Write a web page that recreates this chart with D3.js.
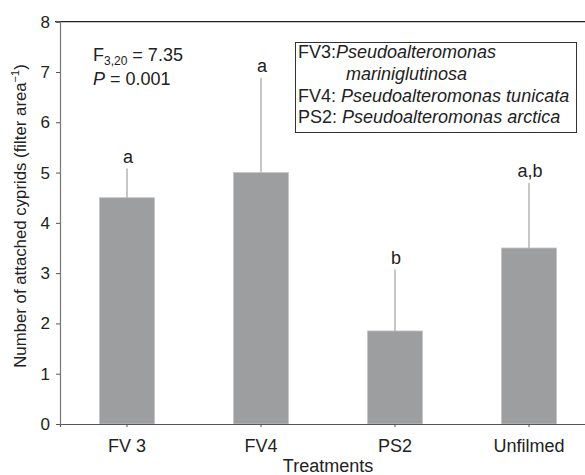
<!DOCTYPE html>
<html>
<head>
<meta charset="utf-8">
<script src="https://cdn.jsdelivr.net/npm/d3@7"></script>
<style>
  body { margin: 0; background: #fff; }
  svg { display: block; font-family: "Liberation Sans", Arial, sans-serif; }
</style>
</head>
<body>
<div id="chartMain"></div>
<script>
const treatments = ['FV 3', 'FV4', 'PS2', 'Unfilmed'];
const means = [4.5, 5.0, 1.85, 3.5];
const errors = [0.58, 1.88, 1.22, 1.29];
const letters = ['a', 'a', 'b', 'a,b'];
const yTicks = [0, 1, 2, 3, 4, 5, 6, 7, 8];

const W = 585, H = 475;
const margin = { top: 21.7, right: -11, bottom: 51, left: 60 };

const svg = d3.select('#chartMain')
    .append('svg')
    .attr('width', W)
    .attr('height', H);

// scales
const x = d3.scaleBand()
    .domain(treatments)
    .range([margin.left, W - margin.right])
    .paddingInner(0.59)
    .paddingOuter(0.295);

const y = d3.scaleLinear()
    .domain([0, 8])
    .range([H - margin.bottom, margin.top]);

// top frame line
svg.append('line')
    .attr('x1', margin.left - 5).attr('x2', W)
    .attr('y1', y(8)).attr('y2', y(8))
    .attr('stroke', '#222').attr('stroke-width', 1.2);

// bars
svg.append('g')
    .selectAll('rect')
    .data(treatments)
    .join('rect')
    .attr('x', d => x(d))
    .attr('y', (d, i) => y(means[i]))
    .attr('width', x.bandwidth())
    .attr('height', (d, i) => y(0) - y(means[i]))
    .attr('fill', '#9d9ea0')
    .attr('stroke', '#c4c4c6')
    .attr('stroke-width', 0.8);

// error bars (upper only)
svg.append('g')
    .selectAll('line')
    .data(treatments)
    .join('line')
    .attr('x1', d => x(d) + x.bandwidth() / 2)
    .attr('x2', d => x(d) + x.bandwidth() / 2)
    .attr('y1', (d, i) => y(means[i]))
    .attr('y2', (d, i) => y(means[i] + errors[i]))
    .attr('stroke', '#b4b4b6')
    .attr('stroke-width', 1.5);

// significance letters
svg.append('g')
    .selectAll('text')
    .data(treatments)
    .join('text')
    .attr('x', d => x(d) + x.bandwidth() / 2 + 1)
    .attr('y', (d, i) => y(means[i] + errors[i]) - 6)
    .attr('text-anchor', 'middle')
    .attr('font-size', 18)
    .attr('fill', '#222')
    .text((d, i) => letters[i]);

// axes
const xAxis = svg.append('g')
    .attr('transform', `translate(0,${y(0)})`)
    .call(d3.axisBottom(x).tickSize(3).tickPadding(12));
xAxis.select('.domain').attr('stroke', '#555').attr('stroke-width', 1.2);
xAxis.selectAll('.tick line').attr('stroke', '#555');
xAxis.selectAll('text').attr('font-size', 18).attr('fill', '#222').attr('font-family', null);

const yAxis = svg.append('g')
    .attr('transform', `translate(${margin.left},0)`)
    .call(d3.axisLeft(y).tickValues(yTicks).tickSize(4).tickPadding(6));
yAxis.select('.domain').attr('stroke', '#777').attr('stroke-width', 1.2);
yAxis.selectAll('.tick line').attr('stroke', '#555');
yAxis.selectAll('text').attr('font-size', 17).attr('fill', '#222').attr('font-family', null);

// axis titles
svg.append('text')
    .attr('x', 328).attr('y', 472)
    .attr('text-anchor', 'middle')
    .attr('font-size', 18)
    .attr('fill', '#222')
    .text('Treatments');

const yl = svg.append('text')
    .attr('transform', 'translate(26,216) rotate(-90)')
    .attr('text-anchor', 'middle')
    .attr('font-size', 16.8)
    .attr('fill', '#222');
yl.append('tspan').text('Number of attached cyprids (filter area');
yl.append('tspan').attr('font-size', 11).attr('dy', -7).text('\u22121');
yl.append('tspan').attr('dy', 7).text(')');

// statistics annotation
const ft = svg.append('text')
    .attr('x', 93).attr('y', 61)
    .attr('font-size', 18)
    .attr('fill', '#222');
ft.append('tspan').text('F');
ft.append('tspan').attr('font-size', 12).attr('dy', 4).text('3,20');
ft.append('tspan').attr('dy', -4).text(' = 7.35');

const pt = svg.append('text')
    .attr('x', 93).attr('y', 85)
    .attr('font-size', 18)
    .attr('fill', '#222');
pt.append('tspan').attr('font-style', 'italic').text('P');
pt.append('tspan').text(' = 0.001');

// species legend box
svg.append('rect')
    .attr('x', 295.5).attr('y', 42.5)
    .attr('width', 281).attr('height', 90)
    .attr('fill', 'none')
    .attr('stroke', '#333')
    .attr('stroke-width', 1);

const legendRows = [
    { code: 'FV3:', name: 'Pseudoalteromonas', dx: 298 },
    { code: '', name: 'mariniglutinosa', dx: 346 },
    { code: 'FV4: ', name: 'Pseudoalteromonas tunicata', dx: 298 },
    { code: 'PS2: ', name: 'Pseudoalteromonas arctica', dx: 298 }
];
legendRows.forEach((r, i) => {
    const t = svg.append('text')
        .attr('x', r.dx).attr('y', 58 + i * 21.8)
        .attr('font-size', 18)
        .attr('fill', '#222')
        .attr('xml:space', 'preserve')
        .style('white-space', 'pre');
    if (r.code) t.append('tspan').text(r.code);
    t.append('tspan').attr('font-style', 'italic').text(r.name);
});
</script>
</body>
</html>
